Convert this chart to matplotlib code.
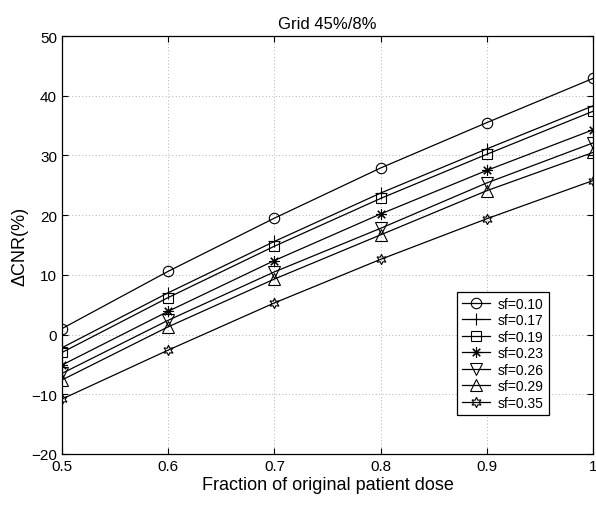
import matplotlib
matplotlib.use("Agg")
import matplotlib.pyplot as plt
from matplotlib.ticker import FixedLocator, FuncFormatter

plt.rcParams['font.family'] = ['Liberation Sans', 'DejaVu Sans']

dose = [0.5, 0.6, 0.7, 0.8, 0.9, 1.0]
labels = ["sf=0.10", "sf=0.17", "sf=0.19", "sf=0.23", "sf=0.26", "sf=0.29", "sf=0.35"]
sf010 = [1.0, 10.6, 19.5, 27.9, 35.5, 42.9]
sf017 = [-2.2, 7.0, 15.6, 23.7, 31.1, 38.3]
sf019 = [-3.0, 6.2, 14.8, 22.8, 30.2, 37.4]
sf023 = [-5.1, 3.9, 12.4, 20.2, 27.5, 34.3]
sf026 = [-6.5, 2.4, 10.5, 17.8, 25.4, 32.1]
sf029 = [-7.6, 1.3, 9.3, 16.7, 24.1, 30.5]
sf035 = [-10.8, -2.6, 5.3, 12.6, 19.4, 25.8]
series = [sf010, sf017, sf019, sf023, sf026, sf029, sf035]
xticks = [0.5, 0.6, 0.7, 0.8, 0.9, 1.0]
yticks = [-20, -10, 0, 10, 20, 30, 40, 50]

markers = ['o', '+', 's', (8, 2, 0), 'v', '^', (6, 1, 0)]
msizes = [7.5, 9, 6.5, 7.5, 8.5, 8.5, 7.5]

fig = plt.figure(figsize=(5.96, 5.06), dpi=100)
ax = fig.add_axes([0.104, 0.1008, 0.891, 0.826])

for vals, lab, m, ms in zip(series, labels, markers, msizes):
    ax.plot(dose, vals, color='black', lw=0.9, marker=m, ms=ms,
            mfc='none', mec='black', mew=0.8, label=lab)

ax.set_xlim(0.5, 1.0)
ax.set_ylim(-20, 50)
ax.xaxis.set_major_locator(FixedLocator(xticks))
ax.yaxis.set_major_locator(FixedLocator(yticks))
ax.xaxis.set_major_formatter(FuncFormatter(lambda v, p: ('%g' % v)))
ax.yaxis.set_major_formatter(FuncFormatter(lambda v, p: ('%g' % v).replace('-', '\u2212')))
ax.tick_params(direction='in', length=4, labelsize=11, top=True, right=True, width=0.8)
ax.grid(True, linestyle=(0, (1, 3)), color='#999999', linewidth=0.6)
for s in ax.spines.values():
    s.set_linewidth(0.9)

ax.set_title("Grid 45%/8%", fontsize=12, pad=6)
ax.set_xlabel("Fraction of original patient dose", fontsize=13, labelpad=2)
ax.set_ylabel("\u0394CNR(%)", fontsize=13, labelpad=2)

leg = ax.legend(loc='upper right', bbox_to_anchor=(0.917, 0.388), fontsize=10,
                frameon=True, fancybox=False, edgecolor='black', framealpha=1,
                handlelength=2.0, borderaxespad=0, labelspacing=0.18,
                handletextpad=0.6, borderpad=0.35)
leg.get_frame().set_linewidth(0.9)

fig.savefig("out.png", dpi=100)
